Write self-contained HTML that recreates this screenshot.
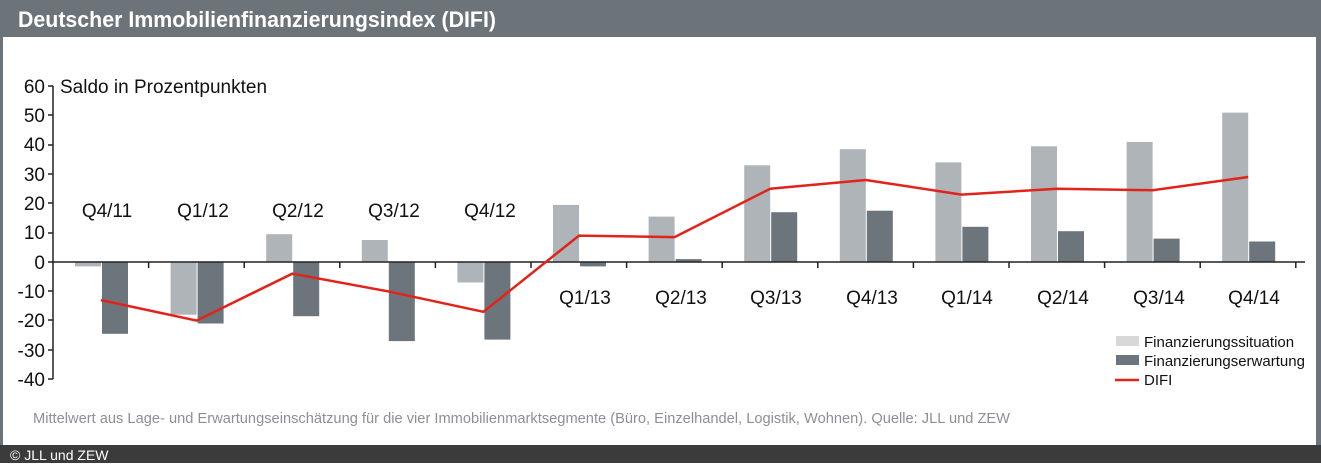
<!DOCTYPE html>
<html><head><meta charset="utf-8"><style>
body{margin:0;width:1321px;height:463px;overflow:hidden;background:#fff;font-family:"Liberation Sans",sans-serif}
</style></head><body>
<svg width="1321" height="463" xmlns="http://www.w3.org/2000/svg" font-family="Liberation Sans, sans-serif">
<rect x="0" y="0" width="1321" height="463" fill="#fff"/>
<rect x="0" y="0" width="1321" height="37" fill="#6c7479"/>
<rect x="0" y="0" width="3" height="463" fill="#6c7479"/>
<rect x="1316" y="0" width="5" height="463" fill="#6c7479"/>
<text x="18" y="27" font-size="22" font-weight="bold" fill="#fff" textLength="478" lengthAdjust="spacingAndGlyphs">Deutscher Immobilienfinanzierungsindex (DIFI)</text>
<rect x="0" y="445" width="1321" height="18" fill="#3b3b3b"/>
<text x="10" y="460" font-size="14" fill="#fff">© JLL und ZEW</text>
<g font-size="19" fill="#111" text-anchor="end">
<text x="45" y="93">60</text><text x="45" y="122">50</text><text x="45" y="151">40</text><text x="45" y="181">30</text><text x="45" y="210">20</text><text x="45" y="239">10</text><text x="45" y="269">0</text><text x="45" y="298">-10</text><text x="45" y="327">-20</text><text x="45" y="357">-30</text><text x="45" y="386">-40</text>
</g>
<text x="60" y="93" font-size="19" fill="#111">Saldo in Prozentpunkten</text>
<g fill="#aeb4b8">
<rect x="75" y="262" width="26" height="4.4"/>
<rect x="170.6" y="262" width="26" height="52.7"/>
<rect x="266.2" y="234.2" width="26" height="27.8"/>
<rect x="361.8" y="240" width="26" height="22"/>
<rect x="457.4" y="262" width="26" height="20.5"/>
<rect x="553" y="204.9" width="26" height="57.1"/>
<rect x="648.6" y="216.6" width="26" height="45.4"/>
<rect x="744.2" y="165.3" width="26" height="96.7"/>
<rect x="839.8" y="149.2" width="26" height="112.8"/>
<rect x="935.4" y="162.4" width="26" height="99.6"/>
<rect x="1031" y="146.3" width="26" height="115.7"/>
<rect x="1126.6" y="141.9" width="26" height="120.1"/>
<rect x="1222.2" y="112.6" width="26" height="149.4"/>
</g>
<g fill="#6c757b">
<rect x="102" y="262" width="26" height="71.8"/>
<rect x="197.6" y="262" width="26" height="61.5"/>
<rect x="293.2" y="262" width="26" height="54.2"/>
<rect x="388.8" y="262" width="26" height="79.1"/>
<rect x="484.4" y="262" width="26" height="77.6"/>
<rect x="580" y="262" width="26" height="4.4"/>
<rect x="675.6" y="259.1" width="26" height="2.9"/>
<rect x="771.2" y="212.2" width="26" height="49.8"/>
<rect x="866.8" y="210.7" width="26" height="51.3"/>
<rect x="962.4" y="226.8" width="26" height="35.2"/>
<rect x="1058" y="231.2" width="26" height="30.8"/>
<rect x="1153.6" y="238.6" width="26" height="23.4"/>
<rect x="1249.2" y="241.5" width="26" height="20.5"/>
</g>
<line x1="53" y1="86" x2="53" y2="379" stroke="#222" stroke-width="1.5"/>
<g stroke="#222" stroke-width="1.5">
<line x1="48" y1="86" x2="53" y2="86"/><line x1="48" y1="115" x2="53" y2="115"/><line x1="48" y1="145" x2="53" y2="145"/><line x1="48" y1="174" x2="53" y2="174"/><line x1="48" y1="203" x2="53" y2="203"/><line x1="48" y1="233" x2="53" y2="233"/><line x1="48" y1="262" x2="53" y2="262"/><line x1="48" y1="291" x2="53" y2="291"/><line x1="48" y1="320" x2="53" y2="320"/><line x1="48" y1="350" x2="53" y2="350"/><line x1="48" y1="379" x2="53" y2="379"/>
<line x1="53" y1="262" x2="1305" y2="262"/>
<line x1="148.6" y1="262" x2="148.6" y2="268"/><line x1="244.2" y1="262" x2="244.2" y2="268"/><line x1="339.8" y1="262" x2="339.8" y2="268"/><line x1="435.4" y1="262" x2="435.4" y2="268"/><line x1="531" y1="262" x2="531" y2="268"/><line x1="626.6" y1="262" x2="626.6" y2="268"/><line x1="722.2" y1="262" x2="722.2" y2="268"/><line x1="817.8" y1="262" x2="817.8" y2="268"/><line x1="913.4" y1="262" x2="913.4" y2="268"/><line x1="1009" y1="262" x2="1009" y2="268"/><line x1="1104.6" y1="262" x2="1104.6" y2="268"/><line x1="1200.2" y1="262" x2="1200.2" y2="268"/><line x1="1295.8" y1="262" x2="1295.8" y2="268"/>
</g>
<polyline points="101,300.1 196.6,320.6 292.2,273.7 387.8,291.3 483.4,311.8 579,235.6 674.6,237.1 770.2,188.75 865.8,180 961.4,194.6 1057,188.75 1152.6,190.2 1248.2,177" fill="none" stroke="#e2231a" stroke-width="2.5"/>
<g font-size="19" fill="#111" text-anchor="middle">
<text x="107" y="217">Q4/11</text><text x="203" y="217">Q1/12</text><text x="298" y="217">Q2/12</text><text x="394" y="217">Q3/12</text><text x="490" y="217">Q4/12</text>
<text x="585" y="304">Q1/13</text><text x="681" y="304">Q2/13</text><text x="776" y="304">Q3/13</text><text x="872" y="304">Q4/13</text><text x="967" y="304">Q1/14</text><text x="1063" y="304">Q2/14</text><text x="1159" y="304">Q3/14</text><text x="1254" y="304">Q4/14</text>
</g>
<text x="33" y="423" font-size="15" fill="#8a9096" textLength="977" lengthAdjust="spacingAndGlyphs">Mittelwert aus Lage- und Erwartungseinschätzung für die vier Immobilienmarktsegmente (Büro, Einzelhandel, Logistik, Wohnen). Quelle: JLL und ZEW</text>
<rect x="1116" y="336" width="23" height="10" fill="#d6d8da"/>
<rect x="1116" y="355" width="23" height="10" fill="#6c757b"/>
<line x1="1115" y1="380" x2="1139" y2="380" stroke="#e2231a" stroke-width="2.5"/>
<g font-size="15" fill="#111"><text x="1144" y="347">Finanzierungssituation</text><text x="1144" y="366">Finanzierungserwartung</text><text x="1144" y="385">DIFI</text></g>
</svg>
</body></html>
